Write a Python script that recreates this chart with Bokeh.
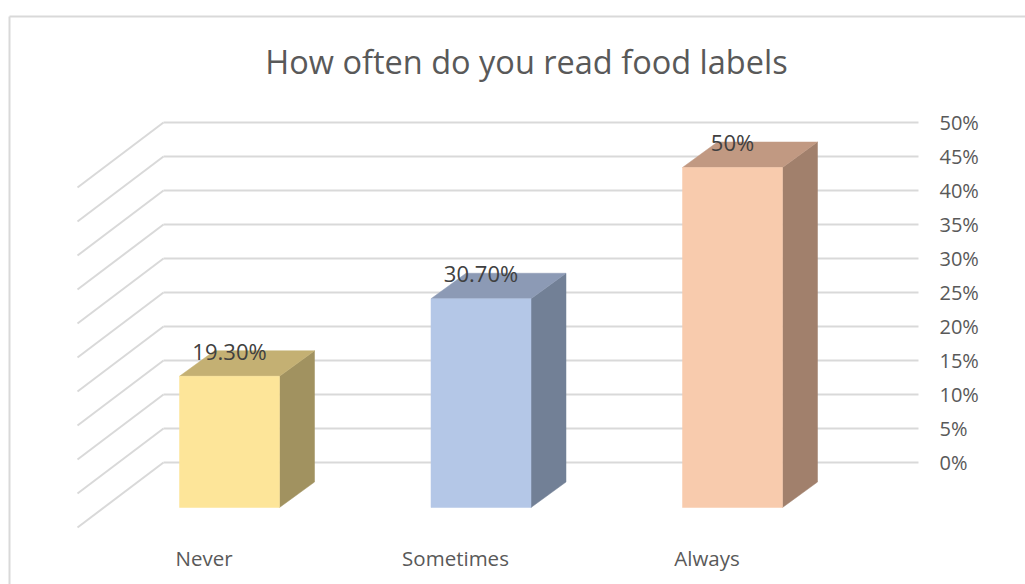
from bokeh.plotting import figure
from bokeh.models import Range1d, Label
from bokeh.core.properties import value
from bokeh.embed import file_html
from bokeh.resources import INLINE

# ---- data ----
categories = ["Never", "Sometimes", "Always"]
values = [19.3, 30.7, 50.0]
value_labels = ["19.30%", "30.70%", "50%"]
ticks = [0, 5, 10, 15, 20, 25, 30, 35, 40, 45, 50]
tick_labels = ["0%", "5%", "10%", "15%", "20%", "25%", "30%", "35%", "40%", "45%", "50%"]
title_text = "How often do you read food labels"

front_colors = ["#FDE599", "#B4C7E7", "#F8CBAD"]
top_colors = ["#C4B073", "#8C9AB5", "#C19982"]
side_colors = ["#A19260", "#728096", "#A1806C"]

# ---- layout constants (pixels / percent units) ----
W, H = 1025, 584
PX_PER_PCT = 6.8
ZERO_PX = 462.0  # screen y of 0% on back wall
y_lo = -(H - ZERO_PX) / PX_PER_PCT
y_hi = ZERO_PX / PX_PER_PCT

WALL_X0, WALL_X1 = 163, 918
WALL_DX = -86
WALL_DY = -65 / PX_PER_PCT
FRONT_SHIFT = -45 / PX_PER_PCT
BAR_W = 100
BAR_DX = 35
BAR_DY = 25.5 / PX_PER_PCT
CAT_X0, CAT_STEP = 229, 251.5
TEXT_GREY = "#595959"

p = figure(width=W, height=H, x_range=Range1d(0, W), y_range=Range1d(y_lo, y_hi),
           output_backend="svg", toolbar_location=None, min_border=0,
           x_axis_type=None, y_axis_type=None)
p.outline_line_color = None
p.background_fill_color = "white"
p.border_fill_color = "white"
p.grid.visible = False

def sy(px):
    return (ZERO_PX - px) / PX_PER_PCT

# chart border (left + top)
p.segment(x0=[9, 9], y0=[sy(16), sy(16)], x1=[9, W + 5], y1=[sy(H + 5), sy(16)],
          line_color="#D9D9D9", line_width=2)

# back wall gridlines
p.segment(x0=[WALL_X0] * len(ticks), y0=ticks, x1=[WALL_X1] * len(ticks), y1=ticks,
          line_color="#D9D9D9", line_width=2)
# side wall gridlines
p.segment(x0=[WALL_X0] * len(ticks), y0=ticks,
          x1=[WALL_X0 + WALL_DX] * len(ticks), y1=[t + WALL_DY for t in ticks],
          line_color="#D9D9D9", line_width=2)

# tick labels
p.text(x=[939] * len(ticks), y=ticks, text=tick_labels, text_font=value("Open Sans"),
       text_font_size="20px", text_color=TEXT_GREY, text_align="left", text_baseline="middle")

# bars
centers = [CAT_X0 + i * CAT_STEP for i in range(len(categories))]
front_xs, front_ys, top_xs, top_ys, side_xs, side_ys = [], [], [], [], [], []
for cx, v in zip(centers, values):
    l, r = cx - BAR_W / 2, cx + BAR_W / 2
    b, t = FRONT_SHIFT, v + FRONT_SHIFT
    front_xs.append([l, r, r, l]); front_ys.append([b, b, t, t])
    top_xs.append([l, r, r + BAR_DX, l + BAR_DX]); top_ys.append([t, t, t + BAR_DY, t + BAR_DY])
    side_xs.append([r, r + BAR_DX, r + BAR_DX, r]); side_ys.append([b, b + BAR_DY, t + BAR_DY, t])

p.patches(xs=side_xs, ys=side_ys, fill_color=side_colors, line_color=side_colors, line_width=0.5)
p.patches(xs=top_xs, ys=top_ys, fill_color=top_colors, line_color=top_colors, line_width=0.5)
p.patches(xs=front_xs, ys=front_ys, fill_color=front_colors, line_color=front_colors, line_width=0.5)

# data labels
p.text(x=centers, y=[v + FRONT_SHIFT + BAR_DY for v in values], text=value_labels,
       text_font=value("Open Sans"), text_font_size="22px", text_color="#404040",
       text_align="center", text_baseline="middle")

# category labels
p.text(x=[c - 25.5 for c in centers], y=[sy(557)] * len(categories), text=categories,
       text_font=value("Open Sans"), text_font_size="20.5px", text_color=TEXT_GREY,
       text_align="center", text_baseline="middle")

# title
p.add_layout(Label(x=526, y=sy(61), text=title_text, text_font="Open Sans",
                   text_font_size="32.5px", text_color=TEXT_GREY,
                   text_align="center", text_baseline="middle"))

open("out.html", "w").write(file_html(p, INLINE))
